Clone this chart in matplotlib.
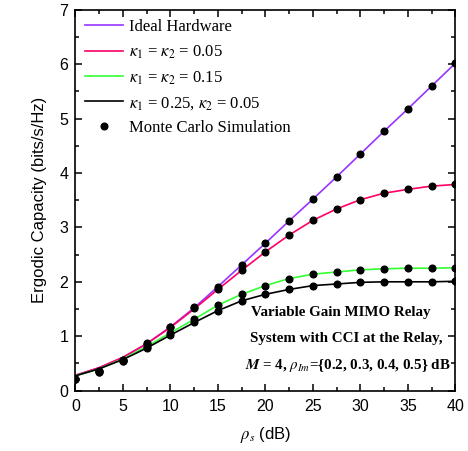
import numpy as np
import matplotlib
matplotlib.use('Agg')
import matplotlib.pyplot as plt
from matplotlib.ticker import MultipleLocator

plt.rcParams['font.family'] = 'Liberation Sans'
plt.rcParams['mathtext.fontset'] = 'stix'

# %% data
snr = [0, 2.5, 5, 7.5, 10, 12.5, 15, 17.5, 20, 22.5, 25, 27.5, 30, 32.5, 35, 37.5, 40]

# analytical curves
ideal = [0.28, 0.42, 0.61, 0.86, 1.17, 1.52, 1.91, 2.31, 2.71, 3.12, 3.52, 3.93, 4.35, 4.77, 5.18, 5.60, 6.02]
k005 = [0.28, 0.42, 0.61, 0.86, 1.16, 1.50, 1.86, 2.21, 2.55, 2.86, 3.13, 3.34, 3.51, 3.63, 3.70, 3.76, 3.79]
k015 = [0.27, 0.40, 0.58, 0.81, 1.06, 1.31, 1.57, 1.77, 1.93, 2.06, 2.14, 2.18, 2.22, 2.24, 2.25, 2.25, 2.26]
k025 = [0.27, 0.40, 0.57, 0.78, 1.02, 1.25, 1.47, 1.65, 1.77, 1.86, 1.93, 1.96, 1.99, 2.00, 2.00, 2.00, 2.01]

# monte carlo points
mc_ideal = [0.21, 0.36, 0.56, 0.87, 1.17, 1.53, 1.91, 2.31, 2.71, 3.12, 3.52, 3.93, 4.35, 4.77, 5.18, 5.60, 6.02]
mc_k005 = [0.21, 0.36, 0.56, 0.86, 1.16, 1.51, 1.86, 2.21, 2.55, 2.86, 3.13, 3.34, 3.51, 3.63, 3.70, 3.76, 3.79]
mc_k015 = [0.21, 0.35, 0.55, 0.80, 1.06, 1.31, 1.57, 1.77, 1.93, 2.06, 2.14, 2.18, 2.22, 2.24, 2.25, 2.25, 2.26]
mc_k025 = [0.21, 0.35, 0.54, 0.78, 1.03, 1.26, 1.47, 1.65, 1.77, 1.86, 1.93, 1.96, 1.99, 2.00, 2.00, 2.00, 2.01]

labels = ['Ideal Hardware',
          r'$\kappa_{\mathit{1}}$ = $\kappa_{\mathit{2}}$ = 0.05',
          r'$\kappa_{\mathit{1}}$ = $\kappa_{\mathit{2}}$ = 0.15',
          r'$\kappa_{\mathit{1}}$ = 0.25, $\kappa_{\mathit{2}}$ = 0.05']
cols = ['#9933ff', '#ff0066', '#33ff33', 'black']

# %% plot
fig = plt.figure(figsize=(4.68, 4.51), dpi=100)
ax = fig.add_axes([0.161, 0.134, 0.812, 0.844])

for y, c, l in zip([ideal, k005, k015, k025], cols, labels):
    ax.plot(snr, y, color=c, lw=1.2, label=l)
for y in [mc_ideal, mc_k005, mc_k015, mc_k025]:
    ax.plot(snr, y, 'o', color='black', ms=4.8, ls='none')
ax.plot([], [], 'o', color='black', ms=4.8, ls='none', label='Monte Carlo Simulation')

ax.set_xlim(0, 40)
ax.set_ylim(0, 7)
ax.xaxis.set_major_locator(MultipleLocator(5))
ax.xaxis.set_minor_locator(MultipleLocator(2.5))
ax.yaxis.set_major_locator(MultipleLocator(1))
ax.yaxis.set_minor_locator(MultipleLocator(0.5))
ax.tick_params(which='both', direction='in', top=True, right=True, labelsize=11.5, width=1.1)
ax.tick_params(which='major', length=5)
ax.tick_params(which='minor', length=3)
ax.tick_params(axis='x', pad=6)
ax.tick_params(axis='y', pad=5)
for s in ax.spines.values():
    s.set_linewidth(1.2)

ax.set_xlabel(r'$\rho_s$ (dB)', fontsize=12, labelpad=8)
ax.set_ylabel('Ergodic Capacity (bits/s/Hz)', fontsize=12, labelpad=9)

leg = ax.legend(loc='upper left', frameon=False, handlelength=2.3, handletextpad=0.35,
                labelspacing=0.5, borderaxespad=0.15,
                prop={'family': 'Liberation Serif', 'size': 12})

txt = {'family': 'Liberation Serif', 'weight': 'bold', 'size': 10.8, 'ha': 'center', 'va': 'center'}
ax.text(27.9, 1.44, 'Variable Gain MIMO Relay', **txt)
ax.text(28.5, 0.95, 'System with CCI at the Relay,', **txt)
ax.text(28.7, 0.47, r'$\boldsymbol{M}$ = 4, $\rho_{Im}$={0.2, 0.3, 0.4, 0.5} dB', **txt)

fig.savefig('out.png', dpi=100)
